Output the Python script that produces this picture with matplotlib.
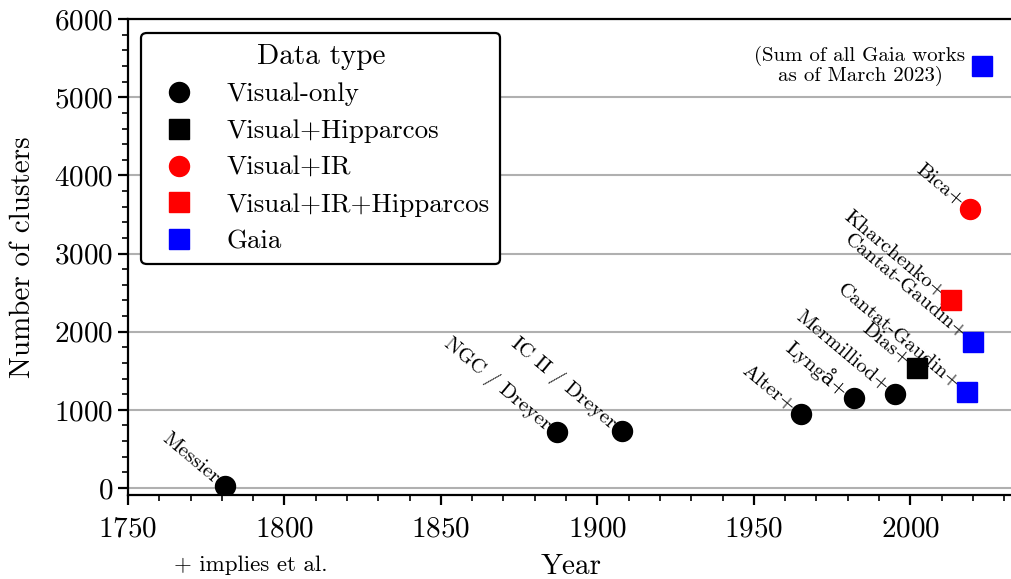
import matplotlib
matplotlib.use('Agg')
import matplotlib.pyplot as plt
from matplotlib.ticker import MultipleLocator

plt.rcParams['font.family'] = ['cmr10', 'DejaVu Serif']
plt.rcParams['mathtext.fontset'] = 'cm'
plt.rcParams['axes.formatter.use_mathtext'] = True

# catalogue data
names = ['Messier', 'NGC / Dreyer', 'IC II / Dreyer', 'Alter+', 'Lyngå+',
         'Mermilliod+', 'Dias+', 'Kharchenko+', 'Cantat-Gaudin+',
         'Cantat-Gaudin+', 'Bica+']
years = [1781, 1887, 1908, 1965, 1982, 1995, 2002, 2013, 2018, 2020, 2019]
counts = [30, 716, 729, 950, 1151, 1200, 1537, 2400, 1229, 1867, 3564]
kinds = ['Visual-only', 'Visual-only', 'Visual-only', 'Visual-only',
         'Visual-only', 'Visual-only', 'Visual+Hipparcos',
         'Visual+IR+Hipparcos', 'Gaia', 'Gaia', 'Visual+IR']

gaia_sum_year = 2023
gaia_sum_count = 5400

kind_order = ['Visual-only', 'Visual+Hipparcos', 'Visual+IR',
              'Visual+IR+Hipparcos', 'Gaia']
kind_style = {
    'Visual-only': ('k', 'o'),
    'Visual+Hipparcos': ('k', 's'),
    'Visual+IR': ('#ff0000', 'o'),
    'Visual+IR+Hipparcos': ('#ff0000', 's'),
    'Gaia': ('#0000ff', 's'),
}

fig = plt.figure(figsize=(10.12, 5.79), dpi=100)
ax = fig.add_axes([0.1265, 0.145, 0.875, 0.822])

for k in kind_order:
    xs = [y for y, t in zip(years, kinds) if t == k]
    ys = [c for c, t in zip(counts, kinds) if t == k]
    if k == 'Gaia':
        xs.append(gaia_sum_year)
        ys.append(gaia_sum_count)
    col, mk = kind_style[k]
    ax.plot(xs, ys, ls='none', marker=mk, color=col, ms=14.4,
            mec=col, label=k, zorder=5)

for n, x, y in zip(names, years, counts):
    ax.annotate(n, (x, y), xytext=(-6, 4), textcoords='offset points',
                ha='right', va='center', rotation=-40, rotation_mode='anchor',
                fontsize=15, zorder=3)

ax.annotate('(Sum of all Gaia works\nas of March 2023)',
            (gaia_sum_year, gaia_sum_count), xytext=(-12, 0),
            textcoords='offset points', ha='right', va='center',
            multialignment='center', fontsize=15, linespacing=1.0)

ax.set_xlim(1750, 2033)
ax.set_ylim(-90, 6000)
ax.xaxis.set_major_locator(MultipleLocator(50))
ax.xaxis.set_minor_locator(MultipleLocator(10))
ax.yaxis.set_major_locator(MultipleLocator(1000))
ax.yaxis.set_minor_locator(MultipleLocator(200))
ax.grid(axis='y', which='major', color='#b0b0b0', lw=1.5, zorder=0)
ax.set_axisbelow(True)

ax.spines['right'].set_visible(False)
for s in ['left', 'bottom', 'top']:
    ax.spines[s].set_linewidth(1.6)
ax.tick_params(which='major', length=7, width=1.6, labelsize=21)
ax.tick_params(which='minor', length=4, width=1.2)
ax.tick_params(axis='x', pad=8)

ax.set_xlabel('Year', fontsize=21, labelpad=8)
ax.set_ylabel('Number of clusters', fontsize=21, labelpad=13)

leg = ax.legend(title='Data type', loc='upper left', fontsize=19.4,
                title_fontsize=21, frameon=True, fancybox=True,
                framealpha=1, edgecolor='k', borderaxespad=0.5,
                handletextpad=0.75, labelspacing=0.48, borderpad=0.4)
leg.get_frame().set_linewidth(1.6)

fig.text(0.248, 0.024, '+ implies et al.', ha='center', va='center',
         fontsize=16.5)

fig.savefig('out.png', dpi=100)
